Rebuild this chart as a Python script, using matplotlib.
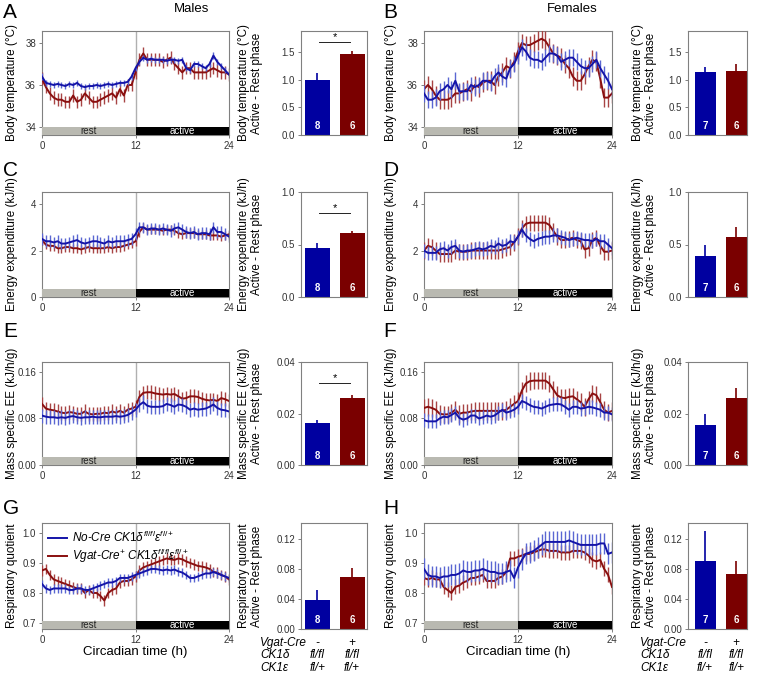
import numpy as np
import matplotlib.pyplot as plt
import matplotlib.transforms as mtransforms

plt.rcParams['font.family'] = ['Liberation Sans', 'DejaVu Sans']
plt.rcParams['mathtext.fontset'] = 'custom'
plt.rcParams['mathtext.rm'] = 'Liberation Sans'
plt.rcParams['mathtext.it'] = 'Liberation Sans:italic'

# circadian time, half-hour bins
ct = np.linspace(0, 24, 49)

# ---- body temperature (C) ----
temp_m_ctrl = [36.4, 36.1, 36.05, 36.0, 36.05, 36.0, 35.95, 36.05, 36.0, 36.1,
               35.95, 35.9, 35.95, 35.95, 36.0, 35.95, 36.0, 36.05, 36.0, 36.05,
               36.1, 36.1, 36.15, 36.4, 36.8, 37.1, 37.3, 37.2, 37.25, 37.2,
               37.2, 37.2, 37.15, 37.2, 37.2, 37.15, 37.2, 36.8, 36.7, 37.0,
               37.0, 36.9, 36.8, 37.0, 37.4, 37.1, 36.9, 36.7, 36.5]
temp_m_ko = [36.3, 35.9, 35.6, 35.4, 35.3, 35.3, 35.2, 35.2, 35.5, 35.2,
             35.3, 35.6, 35.4, 35.2, 35.2, 35.3, 35.4, 35.5, 35.6, 35.4,
             35.8, 35.5, 36.0, 36.0, 36.6, 37.2, 37.5, 37.2, 37.2, 37.2,
             37.2, 37.1, 37.2, 37.3, 37.0, 36.8, 36.6, 36.8, 36.8, 36.6,
             36.6, 36.6, 36.6, 36.7, 36.8, 36.7, 36.6, 36.6, 36.5]
temp_f_ctrl = [35.6, 35.3, 35.3, 35.4, 35.7, 35.8, 36.0, 35.8, 36.2, 35.7,
               35.7, 35.7, 36.0, 35.9, 36.0, 36.2, 36.2, 36.1, 36.4, 36.6,
               36.4, 36.3, 36.8, 37.0, 37.4, 37.8, 37.6, 37.3, 37.2, 37.2,
               37.1, 37.3, 37.5, 37.5, 37.4, 37.1, 37.2, 37.3, 37.3, 37.1,
               36.9, 36.8, 36.8, 37.0, 37.2, 36.8, 36.5, 36.2, 35.8]
temp_f_ko = [35.8, 36.0, 35.8, 35.5, 35.3, 35.3, 35.3, 35.4, 35.6, 35.6,
             35.7, 35.8, 35.7, 36.0, 35.9, 36.1, 36.2, 36.2, 36.0, 36.4,
             36.6, 36.9, 36.8, 37.1, 37.6, 38.0, 37.9, 37.9, 38.0, 38.1,
             38.2, 38.1, 37.8, 37.5, 37.4, 37.3, 37.0, 36.8, 36.4, 36.2,
             36.2, 36.5, 36.9, 37.2, 37.1, 36.3, 35.4, 35.4, 35.6]

# ---- energy expenditure (kJ/h) ----
ee_m_ctrl = [2.5, 2.4, 2.4, 2.35, 2.4, 2.3, 2.3, 2.35, 2.4, 2.45,
             2.35, 2.3, 2.35, 2.4, 2.4, 2.35, 2.3, 2.4, 2.35, 2.4,
             2.4, 2.4, 2.45, 2.5, 2.7, 3.0, 3.0, 2.9, 2.95, 2.95,
             2.9, 2.95, 2.9, 2.85, 2.95, 3.0, 2.9, 2.8, 2.75, 2.8,
             2.7, 2.75, 2.75, 2.7, 3.0, 2.8, 2.8, 2.7, 2.6]
ee_m_ko = [2.45, 2.25, 2.2, 2.2, 2.1, 2.1, 2.15, 2.15, 2.1, 2.1,
           2.05, 2.1, 2.15, 2.1, 2.1, 2.1, 2.1, 2.15, 2.1, 2.15,
           2.15, 2.2, 2.25, 2.3, 2.4, 2.8, 3.0, 2.9, 2.9, 2.9,
           2.9, 2.85, 2.9, 2.9, 2.85, 2.75, 2.7, 2.75, 2.75, 2.75,
           2.7, 2.7, 2.7, 2.65, 2.65, 2.65, 2.6, 2.65, 2.7]
ee_f_ctrl = [2.0, 1.9, 1.9, 1.9, 2.05, 2.1, 2.0, 2.15, 2.2, 2.0,
             1.95, 2.0, 2.0, 2.05, 2.1, 2.05, 2.1, 2.2, 2.15, 2.3,
             2.2, 2.25, 2.4, 2.35, 2.6, 2.9, 2.65, 2.5, 2.4, 2.5,
             2.55, 2.6, 2.6, 2.65, 2.65, 2.6, 2.55, 2.45, 2.5, 2.55,
             2.5, 2.45, 2.45, 2.4, 2.5, 2.4, 2.4, 2.25, 2.1]
ee_f_ko = [2.0, 2.2, 2.15, 2.0, 1.85, 1.85, 1.85, 1.85, 2.0, 1.95,
           1.95, 1.95, 2.0, 2.0, 2.0, 2.0, 2.0, 2.0, 2.0, 2.0,
           2.05, 2.1, 2.15, 2.35, 2.6, 2.95, 3.15, 3.2, 3.2, 3.2,
           3.2, 3.2, 3.1, 2.85, 2.6, 2.45, 2.45, 2.5, 2.55, 2.45,
           2.4, 2.05, 2.1, 2.45, 2.55, 2.2, 1.95, 1.95, 2.0]

# ---- mass specific EE (kJ/h/g) ----
mee_m_ctrl = [0.085, 0.083, 0.082, 0.082, 0.081, 0.082, 0.081, 0.083, 0.084, 0.082,
              0.081, 0.082, 0.082, 0.083, 0.082, 0.082, 0.083, 0.083, 0.083, 0.084,
              0.083, 0.084, 0.086, 0.09, 0.095, 0.103, 0.108, 0.102, 0.1, 0.1,
              0.1, 0.101, 0.105, 0.103, 0.1, 0.104, 0.103, 0.1, 0.095, 0.097,
              0.095, 0.096, 0.097, 0.1, 0.104, 0.098, 0.095, 0.094, 0.092]
mee_m_ko = [0.105, 0.097, 0.095, 0.094, 0.092, 0.09, 0.089, 0.091, 0.09, 0.088,
            0.088, 0.092, 0.088, 0.087, 0.088, 0.088, 0.09, 0.089, 0.092, 0.09,
            0.093, 0.09, 0.095, 0.097, 0.1, 0.117, 0.124, 0.125, 0.125, 0.123,
            0.122, 0.121, 0.122, 0.121, 0.122, 0.118, 0.114, 0.115, 0.118, 0.118,
            0.117, 0.114, 0.112, 0.111, 0.112, 0.11, 0.115, 0.113, 0.11]
mee_f_ctrl = [0.077, 0.075, 0.075, 0.075, 0.08, 0.083, 0.082, 0.086, 0.09, 0.081,
              0.078, 0.08, 0.085, 0.085, 0.08, 0.082, 0.085, 0.083, 0.085, 0.09,
              0.095, 0.09, 0.092, 0.095, 0.1, 0.11, 0.107, 0.103, 0.1, 0.099,
              0.097, 0.1, 0.103, 0.104, 0.105, 0.104, 0.1, 0.095, 0.1, 0.1,
              0.097, 0.098, 0.1, 0.099, 0.097, 0.095, 0.09, 0.09, 0.087]
mee_f_ko = [0.098, 0.1, 0.098, 0.095, 0.088, 0.087, 0.087, 0.09, 0.095, 0.088,
            0.09, 0.09, 0.092, 0.093, 0.093, 0.093, 0.093, 0.093, 0.093, 0.093,
            0.093, 0.095, 0.1, 0.105, 0.11, 0.128, 0.14, 0.144, 0.145, 0.145,
            0.145, 0.145, 0.14, 0.13, 0.12, 0.116, 0.115, 0.117, 0.118, 0.113,
            0.108, 0.1, 0.113, 0.123, 0.12, 0.108, 0.095, 0.09, 0.093]

# ---- respiratory quotient ----
rq_m_ctrl = [0.83, 0.815, 0.81, 0.815, 0.815, 0.815, 0.815, 0.81, 0.81, 0.815,
             0.815, 0.81, 0.81, 0.815, 0.82, 0.825, 0.83, 0.835, 0.835, 0.84,
             0.85, 0.85, 0.85, 0.855, 0.86, 0.865, 0.87, 0.875, 0.88, 0.88,
             0.878, 0.875, 0.878, 0.875, 0.878, 0.872, 0.868, 0.86, 0.85, 0.85,
             0.855, 0.86, 0.865, 0.865, 0.87, 0.865, 0.86, 0.855, 0.85]
rq_m_ko = [0.875, 0.88, 0.86, 0.845, 0.84, 0.835, 0.83, 0.825, 0.82, 0.815,
           0.815, 0.8, 0.81, 0.8, 0.8, 0.79, 0.775, 0.8, 0.81, 0.815,
           0.835, 0.84, 0.84, 0.845, 0.855, 0.875, 0.885, 0.89, 0.895, 0.9,
           0.905, 0.91, 0.915, 0.912, 0.91, 0.915, 0.912, 0.905, 0.9, 0.895,
           0.89, 0.888, 0.885, 0.88, 0.87, 0.868, 0.86, 0.855, 0.845]
rq_f_ctrl = [0.88, 0.86, 0.855, 0.855, 0.85, 0.855, 0.855, 0.86, 0.86, 0.865,
             0.875, 0.87, 0.87, 0.875, 0.875, 0.88, 0.875, 0.87, 0.87, 0.865,
             0.865, 0.87, 0.875, 0.85, 0.885, 0.91, 0.93, 0.935, 0.94, 0.95,
             0.96, 0.97, 0.97, 0.97, 0.97, 0.97, 0.97, 0.975, 0.97, 0.965,
             0.96, 0.96, 0.96, 0.96, 0.96, 0.965, 0.965, 0.93, 0.935]
rq_f_ko = [0.85, 0.845, 0.85, 0.845, 0.845, 0.82, 0.81, 0.80, 0.82, 0.825,
           0.835, 0.84, 0.85, 0.85, 0.855, 0.86, 0.84, 0.84, 0.84, 0.85,
           0.855, 0.87, 0.915, 0.915, 0.92, 0.925, 0.93, 0.93, 0.935, 0.94,
           0.945, 0.945, 0.94, 0.94, 0.94, 0.935, 0.935, 0.935, 0.94, 0.94,
           0.94, 0.935, 0.925, 0.91, 0.905, 0.91, 0.88, 0.86, 0.82]

# SEM of the time courses (ctrl, ko) per panel
sem_lines = {'A': (0.15, 0.3), 'B': (0.4, 0.45), 'C': (0.25, 0.2), 'D': (0.3, 0.35),
             'E': (0.012, 0.012), 'F': (0.012, 0.015), 'G': (0.014, 0.018), 'H': (0.035, 0.025)}

# active - rest differences: (ctrl, ko), sem
diff_vals = {'A': (1.0, 1.46), 'B': (1.14, 1.15), 'C': (0.47, 0.61), 'D': (0.39, 0.57),
             'E': (0.0163, 0.026), 'F': (0.0155, 0.026), 'G': (0.038, 0.069), 'H': (0.09, 0.073)}
diff_sem = {'A': (0.12, 0.05), 'B': (0.09, 0.14), 'C': (0.04, 0.02), 'D': (0.11, 0.1),
            'E': (0.0012, 0.0012), 'F': (0.0045, 0.004), 'G': (0.014, 0.012), 'H': (0.04, 0.018)}
n_males = [8, 6]
n_females = [7, 6]
signif = {'A': 1.68, 'C': 0.80, 'E': 0.032}

BLUE, RED = '#1414a8', '#8a0f0f'
BLUE_ERR, RED_ERR = '#5a66d2', '#a84444'
BAR_BLUE, BAR_RED = '#0000a0', '#7a0000'
GRAY = '#808080'
LABEL_SIZE = 8.4

W, H = 757, 678
fig = plt.figure(figsize=(W / 100, H / 100), dpi=100)


def rect(x0, y0, x1, y1):
    return [x0 / W, 1 - y1 / H, (x1 - x0) / W, (y1 - y0) / H]


def style(ax):
    for s in ax.spines.values():
        s.set_color(GRAY)
        s.set_linewidth(0.8)
    ax.tick_params(colors=GRAY, labelcolor='#333333', labelsize=7, length=2.5,
                   width=0.7, pad=1.8)


def line_panel(ax, ctrl, ko, sems, ylim, yticks, fmt, ylabel, lab_x):
    style(ax)
    ax.axvline(12, color='#b0b0b0', lw=1.0, zorder=1)
    ax.errorbar(ct, ko, yerr=sems[1], color=RED, ecolor=RED_ERR, elinewidth=1.0,
                lw=1.4, capsize=0, zorder=3)
    ax.errorbar(ct, ctrl, yerr=sems[0], color=BLUE, ecolor=BLUE_ERR, elinewidth=1.0,
                lw=1.4, capsize=0, zorder=4)
    trans = mtransforms.blended_transform_factory(ax.transData, ax.transAxes)
    ax.fill_between([0, 12], 0, 0.075, transform=trans, color='#b9b9b1', zorder=5, lw=0)
    ax.fill_between([12, 24], 0, 0.075, transform=trans, color='black', zorder=5, lw=0)
    ax.text(6, 0.037, 'rest', transform=trans, ha='center', va='center', fontsize=7,
            color='#222222', zorder=6)
    ax.text(18, 0.037, 'active', transform=trans, ha='center', va='center', fontsize=7,
            color='white', zorder=6)
    ax.set_xlim(0, 24)
    ax.set_ylim(*ylim)
    ax.set_xticks([0, 12, 24])
    ax.set_yticks(yticks)
    ax.set_yticklabels([fmt.format(v) for v in yticks])
    ax.set_ylabel(ylabel, fontsize=LABEL_SIZE)
    ax.yaxis.set_label_coords(lab_x, 0.5)


def bar_panel(ax, key, ns, ylim, yticks, fmt, ylabel, xlim, width, lab_x):
    style(ax)
    vals = diff_vals[key]
    errs = diff_sem[key]
    cols = [BAR_BLUE, BAR_RED]
    ax.bar([0, 1], vals, width=width, color=cols, zorder=2)
    ax.vlines([0, 1], vals, np.array(vals) + np.array(errs), colors=cols, lw=1.2, zorder=1)
    for i, n in enumerate(ns):
        ax.text(i, 0.04, str(n), transform=mtransforms.blended_transform_factory(
            ax.transData, ax.transAxes), ha='center', va='bottom', color='white',
            fontsize=7, fontweight='bold')
    if key in signif:
        y = signif[key]
        ax.plot([0.05, 0.95], [y, y], color='#222222', lw=0.7)
        ax.text(0.5, y, '*', ha='center', va='bottom', fontsize=8)
    ax.set_xlim(*xlim)
    ax.set_ylim(*ylim)
    ax.set_xticks([])
    ax.set_yticks(yticks)
    ax.set_yticklabels([fmt.format(v) for v in yticks])
    ax.set_ylabel(ylabel + '\nActive - Rest phase', fontsize=LABEL_SIZE, linespacing=1.05)
    ax.yaxis.set_label_coords(lab_x, 0.5)


rows = [
    ('A', 'B', temp_m_ctrl, temp_m_ko, temp_f_ctrl, temp_f_ko, (33.62, 38.57), [34, 36, 38], '{:.0f}',
     'Body temperature (°C)', (0, 1.88), [0, 0.5, 1.0, 1.5], '{:.1f}', 31, 135),
    ('C', 'D', ee_m_ctrl, ee_m_ko, ee_f_ctrl, ee_f_ko, (0, 4.52), [0, 2, 4], '{:.0f}',
     'Energy expenditure (kJ/h)', (0, 1.0), [0, 0.5, 1.0], '{:.1f}', 192, 297),
    ('E', 'F', mee_m_ctrl, mee_m_ko, mee_f_ctrl, mee_f_ko, (0, 0.177), [0, 0.08, 0.16], '{:.2f}',
     'Mass specific EE (kJ/h/g)', (0, 0.04), [0, 0.02, 0.04], '{:.2f}', 362, 465),
    ('G', 'H', rq_m_ctrl, rq_m_ko, rq_f_ctrl, rq_f_ko, (0.68, 1.033), [0.7, 0.8, 0.9, 1.0], '{:.1f}',
     'Respiratory quotient', (0, 0.141), [0, 0.04, 0.08, 0.12], '{:.2f}', 523, 629),
]

letter_y = [12, 170, 331, 508]
for r, (k1, k2, mc, mk, fc, fk, ylim, yt, fmt, lab, bylim, byt, bfmt, top, bot) in enumerate(rows):
    ax1 = fig.add_axes(rect(42, top, 229, bot))
    line_panel(ax1, mc, mk, sem_lines[k1], ylim, yt, fmt, lab, -0.128)
    ax2 = fig.add_axes(rect(301, top, 367, bot))
    bar_panel(ax2, k1, n_males, bylim, byt, bfmt, lab, (-0.47, 1.43), 0.72, -0.58)
    ax3 = fig.add_axes(rect(424, top, 612, bot))
    line_panel(ax3, fc, fk, sem_lines[k2], ylim, yt, fmt, lab, -0.144)
    ax4 = fig.add_axes(rect(688, top, 747, bot))
    bar_panel(ax4, k2, n_females, bylim, byt, bfmt, lab, (-0.55, 1.35), 0.68, -0.53)
    fig.text(3 / W, 1 - letter_y[r] / H, k1, fontsize=15, va='center', ha='left')
    fig.text(383 / W, 1 - letter_y[r] / H, k2, fontsize=15, va='center', ha='left')

    if k1 == 'G':
        for ax_line, ax_bar, lx in [(ax1, ax2, 260), (ax3, ax4, 640)]:
            ax_line.set_xlabel('Circadian time (h)', fontsize=9.5, labelpad=1)
            tb = mtransforms.blended_transform_factory(ax_bar.transData, fig.transFigure)
            rows_txt = [('Vgat-Cre', '-', '+'), ('CK1δ', 'fl/fl', 'fl/fl'),
                        ('CK1ε', 'fl/+', 'fl/+')]
            for j, (name, a, b) in enumerate(rows_txt):
                yy = 1 - (643 + j * 12.5) / H
                fig.text(lx / W, yy, name, fontsize=8.5, style='italic', va='center')
                ax_bar.text(0, yy, a, transform=tb, fontsize=8.5, style='italic',
                            ha='center', va='center')
                ax_bar.text(1, yy, b, transform=tb, fontsize=8.5, style='italic',
                            ha='center', va='center')
        h1, = ax1.plot([], [], color=BLUE, lw=1.4)
        h2, = ax1.plot([], [], color=RED, lw=1.4)
        ax1.legend([h1, h2],
                   [r'No-Cre $CK1\delta^{fl/fl}\varepsilon^{fl/+}$',
                    r'Vgat-Cre$^{+}$ $CK1\delta^{fl/fl}\varepsilon^{fl/+}$'],
                   loc='upper left', frameon=False, handlelength=1.6,
                   handletextpad=0.4, borderaxespad=0.15, labelspacing=0.15,
                   prop={'style': 'italic', 'size': 8.5})

fig.text(192 / W, 1 - 9 / H, 'Males', fontsize=9.5, ha='center', va='center')
fig.text(572 / W, 1 - 9 / H, 'Females', fontsize=9.5, ha='center', va='center')

fig.savefig('out.png', dpi=100)
